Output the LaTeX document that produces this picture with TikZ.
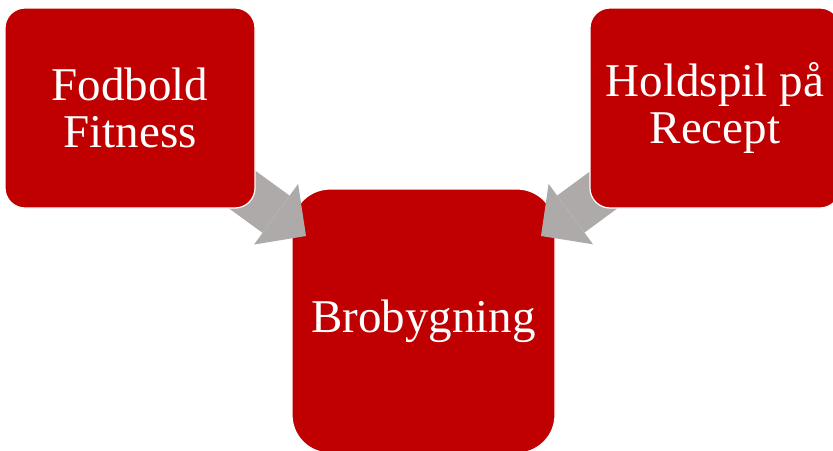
\documentclass[tikz,border=0pt]{standalone}
\usepackage{fontspec}
\setmainfont{Liberation Serif}
\usetikzlibrary{arrows.meta}

\definecolor{boxred}{HTML}{C00000}
\definecolor{arrowgray}{HTML}{AEAAAA}

\tikzset{
  sidebox/.style={rectangle, rounded corners=20pt, fill=boxred, draw=white,
    line width=1.2pt, minimum width=250pt, minimum height=200pt, inner sep=0pt,
    text=white, align=center, font=\fontsize{47}{47}\selectfont},
  brobox/.style={sidebox, rounded corners=38pt, minimum width=263pt,
    minimum height=264pt},
  pil/.style={draw=arrowgray, line width=46pt,
    -{Triangle[length=37pt, width=75pt, line width=0pt]}}
}

\begin{document}
\begin{tikzpicture}[x=1pt, y=-1pt]
  \useasboundingbox (0,0) rectangle (833,450);
  \clip (0,0) rectangle (833,450);

  \node[brobox] (bro) at (423.5,321) {Brobygning};

  \coordinate (fodmid) at (130,108);
  \coordinate (holdmid) at (715,108);
  \coordinate (tipL) at (306,236);
  \coordinate (tipR) at (541,236);
  \draw[pil] (fodmid) -- (tipL);
  \draw[pil] (holdmid) -- (tipR);

  \node[sidebox] (fod) at (fodmid) {Fodbold\\Fitness};
  \node[sidebox] (hold) at (holdmid) {Holdspil på\\Recept};
\end{tikzpicture}
\end{document}
